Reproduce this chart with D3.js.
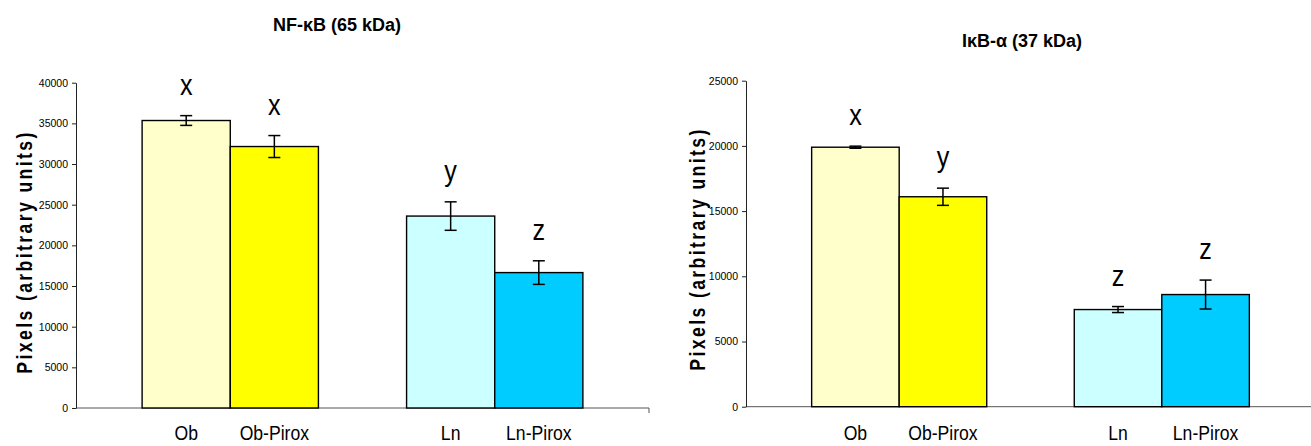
<!DOCTYPE html>
<html>
<head>
<meta charset="utf-8">
<script src="https://cdn.jsdelivr.net/npm/d3@7/dist/d3.min.js"></script>
<style>
  html, body { margin: 0; padding: 0; background: #fff; }
  svg { display: block; }
  text { font-family: "Liberation Sans", Arial, sans-serif; fill: #000; }
</style>
</head>
<body>
<svg id="chart" width="1311" height="446"></svg>
<script>
// Groups and treatments
const categories = ["Ob", "Ob-Pirox", "Ln", "Ln-Pirox"];
const barColors = ["#FFFFCC", "#FFFF00", "#CCFFFF", "#00CCFF"];

// NF-κB (65 kDa) densitometry
const nfkbTitle = "NF-κB (65 kDa)";
const nfkbValues = [35350, 32150, 23600, 16650];
const nfkbErrors = [600, 1350, 1750, 1450];
const nfkbLetters = ["x", "x", "y", "z"];
const nfkbTicks = [0, 5000, 10000, 15000, 20000, 25000, 30000, 35000, 40000];

// IκB-α (37 kDa) densitometry
const ikbTitle = "IκB-α (37 kDa)";
const ikbValues = [19900, 16100, 7450, 8600];
const ikbErrors = [80, 660, 230, 1110];
const ikbLetters = ["x", "y", "z", "z"];
const ikbTicks = [0, 5000, 10000, 15000, 20000, 25000];

const yAxisTitle = "Pixels (arbitrary units)";

const svg = d3.select("#chart");

// Band slots: the two Ob bars, an empty spacer, the two Ln bars
const SPACER = "__spacer__";
const slots = [categories[0], categories[1], SPACER, categories[2], categories[3]];

function drawPanel(cfg) {
  const g = svg.append("g");

  const x = d3.scaleBand()
    .domain(slots)
    .range(cfg.xRange)
    .paddingInner(0)
    .paddingOuter(0.75);

  const y = d3.scaleLinear()
    .domain([0, d3.max(cfg.ticks)])
    .range(cfg.yRange);

  // Category baseline with end tick
  g.append("line")
    .attr("x1", cfg.xRange[0]).attr("x2", cfg.xRange[1])
    .attr("y1", y(0)).attr("y2", y(0))
    .attr("stroke", "#555").attr("stroke-width", 1);
  g.append("line")
    .attr("x1", cfg.xRange[1]).attr("x2", cfg.xRange[1])
    .attr("y1", y(0)).attr("y2", y(0) + 5)
    .attr("stroke", "#555").attr("stroke-width", 1);

  // Value axis
  const yAxis = g.append("g")
    .attr("transform", `translate(${cfg.xRange[0]},0)`)
    .call(d3.axisLeft(y)
      .tickValues(cfg.ticks)
      .tickSize(4)
      .tickSizeOuter(0)
      .tickPadding(4)
      .tickFormat(d3.format("d")));
  yAxis.select(".domain").attr("stroke", "#222");
  yAxis.selectAll(".tick line").attr("stroke", "#222");
  yAxis.selectAll(".tick text")
    .style("font-family", '"Liberation Sans", Arial, sans-serif')
    .style("font-size", "10.5px")
    .attr("fill", "#111");

  const rows = categories.map((c, i) => ({
    cat: c, value: cfg.values[i], err: cfg.errors[i],
    letter: cfg.letters[i], color: barColors[i]
  }));

  // Bars
  g.selectAll("rect.bar").data(rows).join("rect")
    .attr("class", "bar")
    .attr("x", d => x(d.cat))
    .attr("width", x.bandwidth())
    .attr("y", d => y(d.value))
    .attr("height", d => y(0) - y(d.value))
    .attr("fill", d => d.color)
    .attr("stroke", "#000")
    .attr("stroke-width", 1.4);

  // Error bars
  const cx = d => x(d.cat) + x.bandwidth() / 2;
  const eb = g.selectAll("g.err").data(rows).join("g").attr("class", "err")
    .attr("stroke", "#000").attr("stroke-width", 1.5);
  eb.append("line")
    .attr("x1", cx).attr("x2", cx)
    .attr("y1", d => y(d.value + d.err)).attr("y2", d => y(d.value - d.err));
  eb.append("line")
    .attr("x1", d => cx(d) - 6).attr("x2", d => cx(d) + 6)
    .attr("y1", d => y(d.value + d.err)).attr("y2", d => y(d.value + d.err));
  eb.append("line")
    .attr("x1", d => cx(d) - 6).attr("x2", d => cx(d) + 6)
    .attr("y1", d => y(d.value - d.err)).attr("y2", d => y(d.value - d.err));

  // Significance letters
  g.selectAll("text.letter").data(rows).join("text")
    .attr("class", "letter")
    .attr("transform", d => `translate(${cx(d)},${y(d.value + d.err) - 21}) scale(0.84,1)`)
    .attr("text-anchor", "middle")
    .style("font-size", "30px")
    .text(d => d.letter);

  // Category labels
  g.selectAll("text.cat").data(rows).join("text")
    .attr("class", "cat")
    .attr("transform", d => `translate(${cx(d)},440) scale(0.88,1)`)
    .attr("text-anchor", "middle")
    .style("font-size", "20px")
    .text(d => d.cat);

  // Panel title
  g.append("text")
    .attr("x", cfg.titleX).attr("y", cfg.titleY)
    .attr("text-anchor", "middle")
    .style("font-size", "18px")
    .style("font-weight", "bold")
    .text(cfg.title);

  // Value axis title
  g.append("text")
    .attr("transform", `translate(${cfg.yTitleX},${cfg.yTitleY}) rotate(-90) scale(0.8,1)`)
    .attr("text-anchor", "middle")
    .style("font-size", "22px")
    .style("font-weight", "bold")
    .style("letter-spacing", "3px")
    .text(yAxisTitle);
}

drawPanel({
  title: nfkbTitle, values: nfkbValues, errors: nfkbErrors, letters: nfkbLetters,
  ticks: nfkbTicks,
  xRange: [76, 649], yRange: [408, 82.7],
  titleX: 337, titleY: 30.5,
  yTitleX: 32, yTitleY: 252
});

drawPanel({
  title: ikbTitle, values: ikbValues, errors: ikbErrors, letters: ikbLetters,
  ticks: ikbTicks,
  xRange: [746, 1315], yRange: [406.7, 80.7],
  titleX: 1022, titleY: 47,
  yTitleX: 705, yTitleY: 249
});
</script>
</body>
</html>
